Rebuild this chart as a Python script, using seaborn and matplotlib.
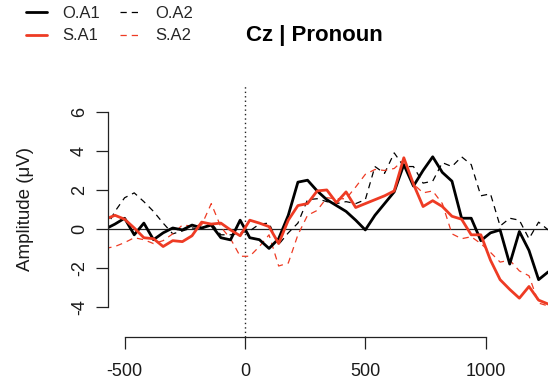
import numpy as np
import pandas as pd
import matplotlib
matplotlib.use("Agg")
import matplotlib.pyplot as plt
import seaborn as sns
from matplotlib.lines import Line2D

# time points (ms)
times = [-580, -540, -500, -460, -420, -380, -340, -300, -260, -220, -180, -140,
         -100, -60, -20, 20, 60, 100, 140, 180, 220, 260, 300, 340, 380, 420,
         460, 500, 540, 580, 620, 660, 700, 740, 780, 820, 860, 900, 940, 980,
         1020, 1060, 1100, 1140, 1180, 1220, 1260]

# amplitudes (uV)
oa1 = [0.0, 0.25, 0.55, -0.3, 0.3, -0.55, -0.2, 0.05, -0.05, 0.2, 0.05, 0.2,
       -0.45, -0.56, 0.45, -0.45, -0.55, -1.0, -0.5, 0.7, 2.4, 2.5, 1.95, 1.5,
       1.2, 0.9, 0.45, -0.05, 0.7, 1.3, 1.9, 3.3, 2.2, 3.0, 3.7, 2.9, 2.45,
       0.55, 0.55, -0.6, -0.2, -0.05, -1.8, -0.13, -1.1, -2.6, -2.2]
oa2 = [0.0, 0.9, 1.6, 1.85, 1.4, 0.9, 0.3, -0.25, -0.1, 0.05, 0.0, 0.3,
       -0.3, -0.3, -0.2, -0.1, 0.25, 0.3, -0.8, -0.2, 0.3, 1.5, 1.55, 1.4,
       1.3, 1.4, 1.3, 1.5, 3.2, 2.85, 3.9, 3.2, 3.2, 2.35, 2.45, 3.4, 3.2,
       3.7, 3.3, 1.7, 1.8, 0.15, 0.55, 0.45, -0.5, 0.35, -0.05]
sa1 = [0.5, 0.7, 0.5, 0.05, -0.45, -0.5, -0.9, -0.6, -0.65, -0.35, 0.35, 0.25,
       0.3, -0.05, -0.35, 0.45, 0.3, 0.12, -0.75, 0.45, 1.2, 1.3, 1.95, 2.0,
       1.35, 1.9, 1.1, 1.3, 1.5, 1.7, 1.95, 3.65, 2.3, 1.15, 1.45, 1.15, 0.65,
       0.5, -0.3, -0.3, -1.6, -2.6, -3.1, -3.55, -2.95, -3.65, -3.85]
sa2 = [-1.0, -0.9, -0.7, -0.45, -0.55, -0.75, -0.6, -0.25, 0.2, 0.15, 0.2, 1.3,
       0.1, -0.5, -1.4, -1.4, -0.9, -0.3, -1.9, -1.75, -0.3, 0.7, 0.95, 1.6,
       1.55, 1.55, 2.15, 2.8, 3.05, 3.0, 3.1, 3.55, 2.3, 1.85, 1.95, 1.3, -0.25,
       -0.5, -0.4, -0.75, -1.2, -1.7, -1.6, -2.15, -2.4, -3.8, -3.95]

labels = ["O.A1", "S.A1", "O.A2", "S.A2"]
red = "#EE3B24"

sns.set_style("white")
plt.rcParams["font.family"] = ["Liberation Sans", "DejaVu Sans"]
plt.rcParams["axes.unicode_minus"] = False

fig = plt.figure(figsize=(5.48, 3.87), dpi=100)
ax = fig.add_axes([108 / 548, 1 - 337 / 387, 440 / 548, (337 - 86) / 387])

ax.axhline(0, color="#222222", lw=0.9, zorder=1)
ax.axvline(0, color="#222222", lw=1.0, ls=(0, (1, 2.2)), zorder=1)

sns.lineplot(x=times, y=oa2, color="black", lw=0.9, ls=(0, (5, 4)), ax=ax)
sns.lineplot(x=times, y=sa2, color=red, lw=0.9, ls=(0, (5, 4)), ax=ax)
sns.lineplot(x=times, y=oa1, color="black", lw=2.0, ax=ax)
sns.lineplot(x=times, y=sa1, color=red, lw=2.0, ax=ax)

ax.set_xlim(-569, 1259)
ax.set_ylim(-5.54, 7.33)

for s in ["top", "right"]:
    ax.spines[s].set_visible(False)
for s in ["left", "bottom"]:
    ax.spines[s].set_color("#222222")
    ax.spines[s].set_linewidth(0.9)
ax.spines["left"].set_bounds(-4, 6)
ax.spines["bottom"].set_bounds(-500, 1000)

ax.set_xticks([-500, 0, 500, 1000])
ax.set_yticks([-4, -2, 0, 2, 4, 6])
ax.tick_params(axis="both", bottom=True, left=True, direction="out",
               length=8.5, width=0.9, color="#222222", labelsize=13,
               labelcolor="#1a1a1a")
ax.tick_params(axis="x", pad=10)
ax.tick_params(axis="y", pad=6)
for lab in ax.get_yticklabels():
    lab.set_rotation(90)
    lab.set_va("center")
ax.set_xlabel("")
ax.set_ylabel("")

fig.text(25 / 548, 1 - 209 / 387, "Amplitude (\u03bcV)", rotation=90,
         ha="center", va="center", fontsize=13.5, color="#1a1a1a")
fig.text(314 / 548, 1 - 35 / 387, "Cz | Pronoun", ha="center", va="center",
         fontsize=16, fontweight="bold", color="black")

handles = [
    Line2D([], [], color="black", lw=2.0),
    Line2D([], [], color=red, lw=2.0),
    Line2D([], [], color="black", lw=0.9, ls=(0, (5, 4))),
    Line2D([], [], color=red, lw=0.9, ls=(0, (5, 4))),
]
fig.legend(handles, labels, ncol=2, loc="upper left",
           bbox_to_anchor=(26 / 548, 1 - 6 / 387), frameon=False,
           fontsize=12, handlelength=1.25, handletextpad=0.9,
           columnspacing=1.2, labelspacing=0.45, borderpad=0,
           borderaxespad=0)

fig.savefig("out.png", dpi=100)
